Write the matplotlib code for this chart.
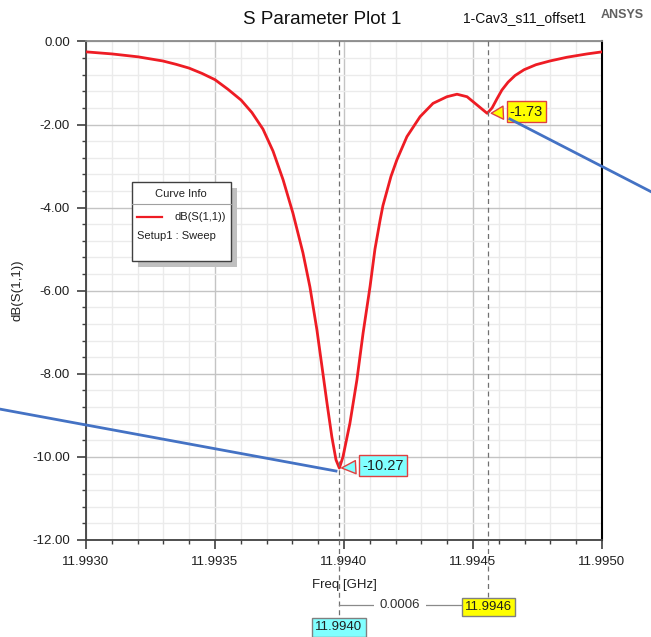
import matplotlib.pyplot as plt
from matplotlib.transforms import blended_transform_factory
from matplotlib.patches import Rectangle
from matplotlib.ticker import MultipleLocator, FormatStrFormatter

plt.rcParams['font.family'] = ['Liberation Sans', 'DejaVu Sans']

# ---------------------- Data ---------------------- #
freq_ghz = [11.993000, 11.993101, 11.993202, 11.993298, 11.993349, 11.993399,
            11.993450, 11.993500, 11.993550, 11.993601, 11.993643, 11.993686,
            11.993725, 11.993764, 11.993802, 11.993841, 11.993868, 11.993895,
            11.993915, 11.993934, 11.993953, 11.993969, 11.993982, 11.993996,
            11.994023, 11.994050, 11.994074, 11.994101, 11.994120, 11.994140,
            11.994151, 11.994163, 11.994182, 11.994205, 11.994244, 11.994295,
            11.994345, 11.994399, 11.994438, 11.994477, 11.994516, 11.994555,
            11.994574, 11.994593, 11.994612, 11.994636, 11.994663, 11.994698,
            11.994744, 11.994798, 11.994864, 11.994942, 11.995000]
s11_db = [-0.25, -0.30, -0.37, -0.47, -0.55, -0.64,
          -0.77, -0.92, -1.15, -1.41, -1.71, -2.11,
          -2.64, -3.33, -4.13, -5.09, -5.91, -6.94,
          -7.84, -8.70, -9.52, -10.07, -10.27, -10.00,
          -9.19, -8.15, -7.02, -5.90, -5.00, -4.30,
          -3.95, -3.68, -3.25, -2.85, -2.29, -1.81,
          -1.49, -1.33, -1.27, -1.33, -1.53, -1.73,
          -1.60, -1.38, -1.17, -0.98, -0.82, -0.68,
          -0.56, -0.47, -0.38, -0.30, -0.25]

marker_freqs = [11.99398, 11.99456]
marker_vals = [-10.27, -1.73]
marker_freq_labels = ['11.9940', '11.9946']
marker_val_labels = ['-10.27', '-1.73']
delta_label = '0.0006'

# blue pointer lines drawn over the screenshot
pointer1_x = [11.992667, 11.993969]
pointer1_y = [-8.85, -10.34]
pointer2_x = [11.994643, 11.995190]
pointer2_y = [-1.866, -3.616]

# ---------------------- Figure ---------------------- #
fig = plt.figure(figsize=(6.51, 6.37), dpi=100)
ax = fig.add_axes([0.1321, 0.1523, 0.7926, 0.7826])

ax.plot(freq_ghz, s11_db, color='#ee1c24', lw=2.0, zorder=3)

ax.set_xlim(11.993, 11.995)
ax.set_ylim(-12, 0)
ax.xaxis.set_major_locator(MultipleLocator(0.0005))
ax.xaxis.set_minor_locator(MultipleLocator(0.0001))
ax.yaxis.set_major_locator(MultipleLocator(2))
ax.yaxis.set_minor_locator(MultipleLocator(0.4))
ax.xaxis.set_major_formatter(FormatStrFormatter('%.4f'))
ax.yaxis.set_major_formatter(FormatStrFormatter('%.2f'))

ax.grid(which='major', color='#c4c4c4', lw=1.0)
ax.grid(which='minor', color='#ebebeb', lw=1.0)
ax.set_axisbelow(True)

ax.tick_params(which='both', direction='out', color='#404040',
               labelsize=9.5, labelcolor='#202020', top=False, right=False)
ax.tick_params(which='major', length=6.5, width=1.2, pad=5)
ax.tick_params(which='minor', length=3, width=1.0)

for side in ['left', 'bottom']:
    ax.spines[side].set_color('#404040')
    ax.spines[side].set_linewidth(1.3)
ax.spines['top'].set_color('#8a8a8a')
ax.spines['top'].set_linewidth(1.3)
ax.spines['right'].set_color('black')
ax.spines['right'].set_linewidth(1.5)

ax.set_xlabel('Freq [GHz]', fontsize=9.5, color='#202020', labelpad=8)
ax.set_ylabel('dB(S(1,1))', fontsize=9.5, color='#202020', labelpad=6)

# ---------------------- Titles ---------------------- #
fig.text(0.4954, 0.970, 'S Parameter Plot 1', fontsize=13.5, ha='center', va='center', color='#101010')
fig.text(0.805, 0.971, '1-Cav3_s11_offset1', fontsize=10, ha='center', va='center', color='#101010')
fig.text(0.956, 0.976, 'ANSYS', fontsize=9, fontweight='bold', ha='center', va='center', color='#606060')

# ---------------------- Markers ---------------------- #
blend = blended_transform_factory(ax.transData, ax.transAxes)
marker_bottoms = [-0.154, -0.1137]
for f, b in zip(marker_freqs, marker_bottoms):
    ax.plot([f, f], [1.0, b], transform=blend, color='#707070', lw=0.9,
            ls=(0, (4, 3)), clip_on=False, zorder=4)

ax.plot(marker_freqs, [-0.130, -0.130], transform=blend, color='#8a8a8a', lw=0.9,
        clip_on=False, zorder=4)
# delta text sits halfway between the first marker and the left edge of the second label
ax.text((marker_freqs[0] + 11.994456) / 2, -0.130, delta_label, transform=blend, fontsize=9.5,
        ha='center', va='center', color='#303030',
        bbox=dict(boxstyle='square,pad=0.45', fc='white', ec='none'), zorder=5)

box_colors = ['#80ffff', '#ffff00']
for f, b, lab, c in zip(marker_freqs, marker_bottoms, marker_freq_labels, box_colors):
    ax.text(f, b - 0.009, lab, transform=blend, fontsize=9.5, ha='center', va='top',
            color='#202020', zorder=6,
            bbox=dict(boxstyle='square,pad=0.25', fc=c, ec='#808080', lw=1.0))

callout_pos = [(11.994151, -10.21), (11.994707, -1.69)]
for f, v, lab, c, pos in zip(marker_freqs, marker_vals, marker_val_labels, box_colors, callout_pos):
    ax.annotate(lab, xy=(f, v), xytext=pos, fontsize=10.5, ha='center', va='center',
                color='#202020', zorder=6,
                bbox=dict(boxstyle='square,pad=0.22', fc=c, ec='#e04040', lw=1.0),
                arrowprops=dict(arrowstyle='wedge,tail_width=0.9,shrink_factor=0.5',
                                fc=c, ec='#e04040', lw=1.0))

ax.plot(pointer1_x, pointer1_y, color='#4472c4', lw=2.0, clip_on=False, zorder=7)
ax.plot(pointer2_x, pointer2_y, color='#4472c4', lw=2.0, clip_on=False, zorder=7)

# ---------------------- Curve Info box ---------------------- #
bx0, bx1, by0, by1 = 0.0886, 0.2804, 0.5597, 0.7175
ax.add_patch(Rectangle((bx0 + 0.0116, by0 - 0.012), bx1 - bx0, by1 - by0,
                       transform=ax.transAxes, fc='#c0c0c0', ec='none', zorder=8))
ax.add_patch(Rectangle((bx0, by0), bx1 - bx0, by1 - by0, transform=ax.transAxes,
                       fc='white', ec='#404040', lw=1.0, zorder=9))
ax.plot([bx0, bx1], [0.673, 0.673], transform=ax.transAxes, color='#a0a0a0', lw=0.8, zorder=10)
ax.text(0.1845, 0.6940, 'Curve Info', transform=ax.transAxes, fontsize=8, ha='center',
        va='center', color='#202020', zorder=10)
ax.plot([0.0982, 0.1467], [0.6485, 0.6485], transform=ax.transAxes, color='#ee1c24',
        lw=1.6, zorder=10)
ax.text(0.2209, 0.6485, 'dB(S(1,1))', transform=ax.transAxes, fontsize=8, ha='center',
        va='center', color='#202020', zorder=10)
ax.text(0.0982, 0.6098, 'Setup1 : Sweep', transform=ax.transAxes, fontsize=8, ha='left',
        va='center', color='#202020', zorder=10)

fig.savefig('out.png', dpi=100)
